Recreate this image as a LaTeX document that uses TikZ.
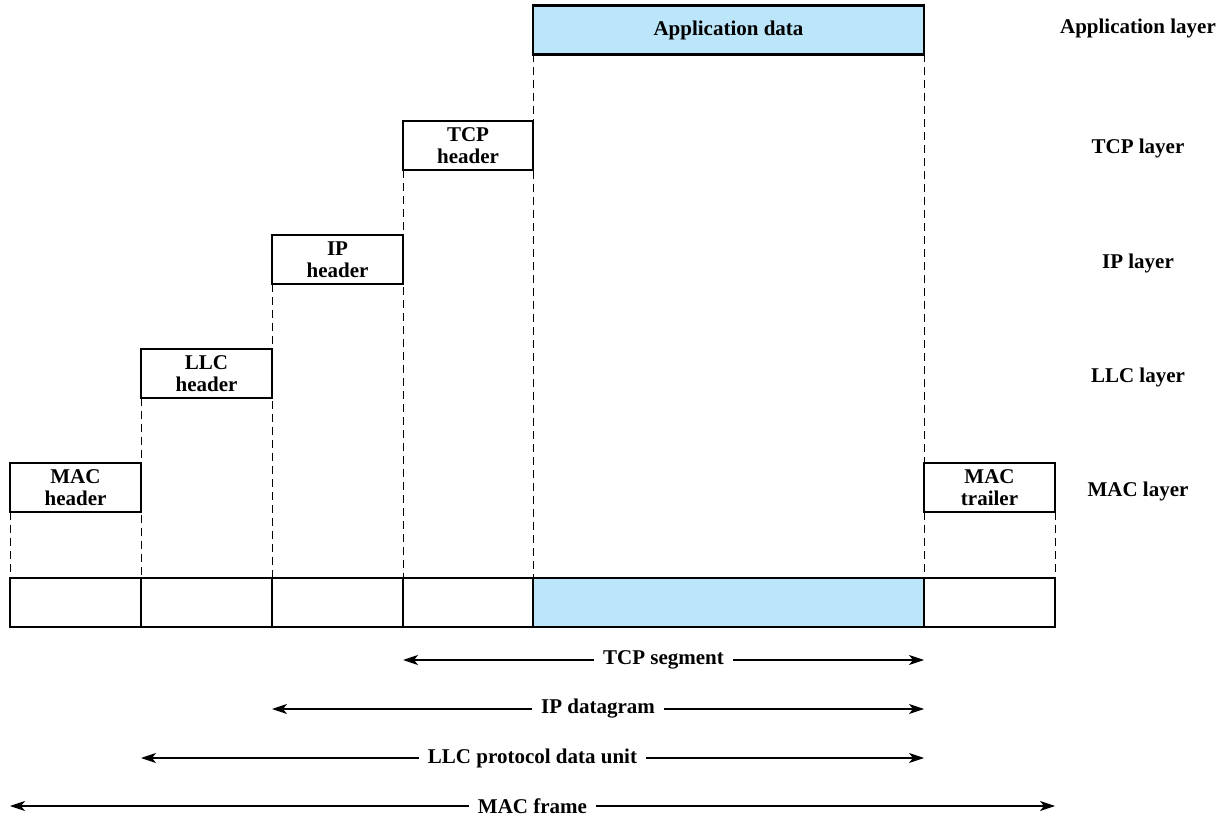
\documentclass[tikz,border=0pt]{standalone}
\usepackage{fontspec}
\setmainfont{Liberation Serif}
\usetikzlibrary{arrows.meta}

\definecolor{appblue}{RGB}{187,229,249}

\begin{document}
\begin{tikzpicture}[x=1pt, y=1pt, font=\fontsize{21}{22}\selectfont\bfseries,
  hdr/.style={draw, line width=2.2pt, minimum width=131pt, minimum height=49pt, inner sep=0pt, outer sep=0pt, align=center},
  guide/.style={line width=1pt, dash pattern=on 8pt off 5pt},
  span/.style={line width=1.2pt, {Stealth[length=15pt, width=10pt, inset=4pt]}-{Stealth[length=15pt, width=10pt, inset=4pt]}},
  lbl/.style={fill=white, inner xsep=9pt, inner ysep=2pt}]
\useasboundingbox (0,0) rectangle (1227,820);

% headers, one per layer
\node[hdr, fill=appblue, minimum width=391pt] (app) at (728.5,790) {Application data};
\node[hdr, minimum width=130pt] (tcp) at (468,674.5) {TCP\\header};
\node[hdr] (ip) at (337.5,560.5) {IP\\header};
\node[hdr] (llc) at (206.5,446.5) {LLC\\header};
\node[hdr] (mach) at (75.5,332.5) {MAC\\header};
\node[hdr] (mact) at (989.5,332.5) {MAC\\trailer};

% layer names
\node (lapp) at (1138,792) {Application layer};
\node (ltcp) at (1138,672) {TCP layer};
\node (lip) at (1138,557) {IP layer};
\node (lllc) at (1138,443) {LLC layer};
\node (lmac) at (1138,329) {MAC layer};

% the frame
\node[hdr] (f1) at (75.5,217.5) {};
\node[hdr] (f2) at (206.5,217.5) {};
\node[hdr] (f3) at (337.5,217.5) {};
\node[hdr, minimum width=130pt] (f4) at (468,217.5) {};
\node[hdr, fill=appblue, minimum width=391pt] (f5) at (728.5,217.5) {};
\node[hdr] (f6) at (989.5,217.5) {};

% guide lines
\draw[guide] (app.south west) -- (f5.north west);
\draw[guide] (app.south east) -- (mact.north west);
\draw[guide] (mact.south west) -- (f6.north west);
\draw[guide] (mact.south east) -- (f6.north east);
\draw[guide] (tcp.south west) -- (f4.north west);
\draw[guide] (ip.south west) -- (f3.north west);
\draw[guide] (llc.south west) -- (f2.north west);
\draw[guide] (mach.south west) -- (f1.north west);

% spans
\coordinate (s1a) at (403,160);  \coordinate (s1b) at (924,160);
\coordinate (s2a) at (272,111);  \coordinate (s2b) at (924,111);
\coordinate (s3a) at (141,62);   \coordinate (s3b) at (924,62);
\coordinate (s4a) at (10,14);    \coordinate (s4b) at (1055,14);
\draw[span] (s1a) -- (s1b) node[midway, lbl] (tseg) {TCP segment};
\draw[span] (s2a) -- (s2b) node[midway, lbl] (ipdg) {IP datagram};
\draw[span] (s3a) -- (s3b) node[midway, lbl] (pdu) {LLC protocol data unit};
\draw[span] (s4a) -- (s4b) node[midway, lbl] (frm) {MAC frame};
\end{tikzpicture}
\end{document}
